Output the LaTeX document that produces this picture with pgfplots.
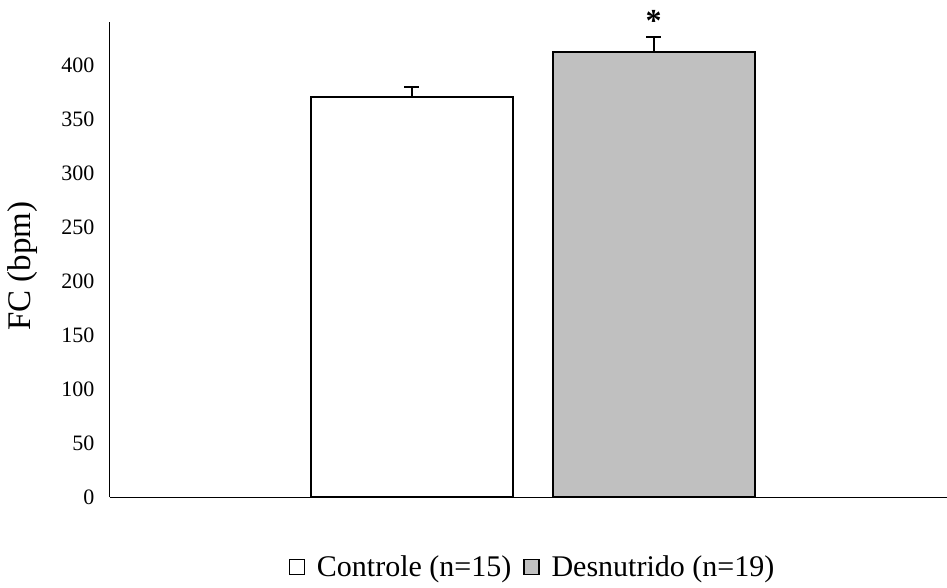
\documentclass[border=0pt]{standalone}
\usepackage{pgfplots}
\pgfplotsset{compat=1.18}
\usepackage{fontspec}
\setmainfont{Liberation Serif}
\definecolor{barGray}{RGB}{192,192,192}

\begin{document}
\begin{tikzpicture}
\begin{axis}[
  width=837pt, height=475pt, scale only axis,
  xmin=-1.245, xmax=2.211,
  ymin=0, ymax=440,
  axis x line*=bottom, axis y line*=left,
  axis line style={black, line width=1pt, -},
  xtick=\empty,
  ytick={0,50,...,400},
  major tick length=0pt,
  /pgf/number format/assume math mode=true,
  yticklabel style={font=\fontsize{22}{26}\selectfont, xshift=-12pt},
  ylabel={FC (bpm)},
  ylabel style={font=\fontsize{33}{38}\selectfont, at={(axis description cs:-0.104,0.486)}, anchor=center},
  clip=false,
  legend style={
    at={(axis description cs:0.5048,-0.147)}, anchor=center,
    draw=none, fill=none,
    font=\fontsize{30}{36}\selectfont,
    legend columns=-1,
    /tikz/every even column/.append style={column sep=10pt},
    /tikz/every odd column/.append style={column sep=10pt},
  },
  legend image code/.code={\draw[#1, line width=1.2pt] (0pt,-7.5pt) rectangle (15pt,7.5pt);},
]
% Controle
\addplot[ybar, bar shift=0pt, bar width=0.834, fill=white, draw=black, line width=2pt,
  error bars/.cd, y dir=plus, y explicit,
  error bar style={line width=2pt, black},
  error mark options={rotate=90, mark size=7.5pt, line width=2pt, black}]
  coordinates {(0,370.6) +- (0,9.3)};
\addlegendentry{Controle (n=15)}
% Desnutrido
\addplot[ybar, bar shift=0pt, bar width=0.834, fill=barGray, draw=black, line width=2pt,
  error bars/.cd, y dir=plus, y explicit,
  error bar style={line width=2pt, black},
  error mark options={rotate=90, mark size=7.5pt, line width=2pt, black}]
  coordinates {(1,411.8) +- (0,14.4)};
\addlegendentry{Desnutrido (n=19)}
% significance marker
\node[font=\fontsize{32}{36}\selectfont\bfseries, anchor=base, inner sep=0pt] at (axis cs:1,431) {*};
\coordinate (bl) at (axis description cs:-0.1314,-0.1895);
\coordinate (tr) at (axis description cs:1,1.0463);
\end{axis}
\pgfresetboundingbox
\path[use as bounding box] (bl) rectangle (tr);
\end{tikzpicture}
\end{document}
